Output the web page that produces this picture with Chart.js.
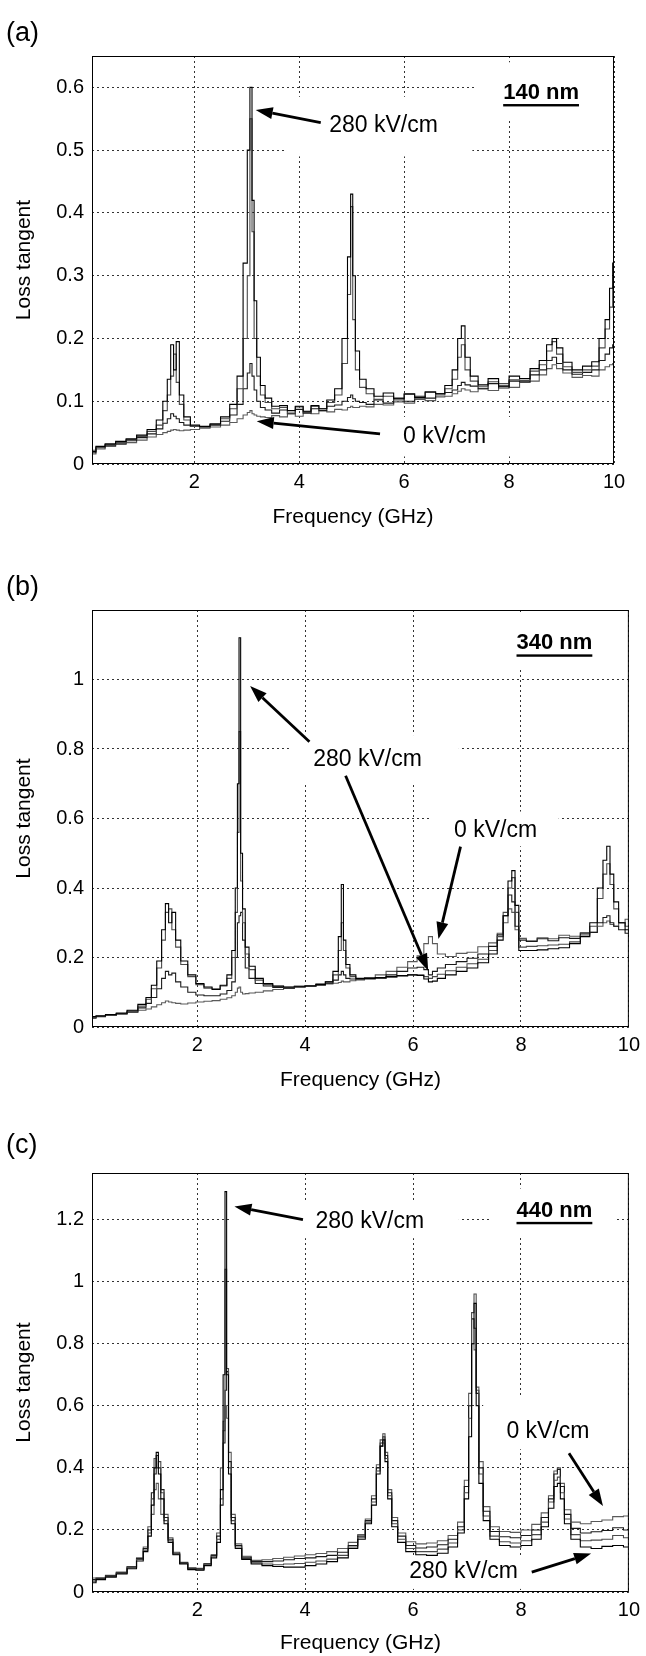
<!DOCTYPE html>
<html>
<head>
<meta charset="utf-8">
<script src="https://cdn.jsdelivr.net/npm/chart.js@4.4.1/dist/chart.umd.min.js"></script>
<style>
  html, body { margin: 0; padding: 0; background: #fff; }
  body { width: 646px; height: 1656px; position: relative; overflow: hidden; }
  .panel { position: absolute; left: 0; width: 646px; }
  canvas { display: block; }
</style>
</head>
<body>
<div class="panel" style="top:0px;height:545px"><canvas id="chartA" width="646" height="545"></canvas></div>
<div class="panel" style="top:545px;height:555px"><canvas id="chartB" width="646" height="555"></canvas></div>
<div class="panel" style="top:1100px;height:556px"><canvas id="chartC" width="646" height="556"></canvas></div>
<script>
const FONT = '"Liberation Sans", Arial, Helvetica, sans-serif';

// shared tick labels
const xTicks = [2, 4, 6, 8, 10];
const yTicksA = [0, 0.1, 0.2, 0.3, 0.4, 0.5, 0.6];
const yTicksB = [0, 0.2, 0.4, 0.6, 0.8, 1];
const yTicksC = [0, 0.2, 0.4, 0.6, 0.8, 1, 1.2];

// (a) 140 nm film, frequency in GHz
const freqA = [0.05, 0.2, 0.4, 0.6, 0.8, 1.0, 1.2, 1.35, 1.45, 1.52, 1.58, 1.63, 1.68, 1.75, 1.85, 2.0, 2.2, 2.4, 2.6, 2.75,
  2.88, 2.98, 3.04, 3.08, 3.12, 3.16, 3.22, 3.3, 3.4, 3.55, 3.7, 3.85, 4.0, 4.15, 4.3, 4.45, 4.6, 4.75, 4.88, 4.96,
  5.0, 5.04, 5.1, 5.2, 5.35, 5.5, 5.7, 5.9, 6.1, 6.3, 6.5, 6.7, 6.85, 6.98, 7.06, 7.12, 7.2, 7.32, 7.5, 7.7,
  7.9, 8.1, 8.3, 8.5, 8.65, 8.78, 8.86, 8.95, 9.1, 9.3, 9.5, 9.65, 9.78, 9.88, 9.95, 10.0];
const a280 = [0.020, 0.028, 0.032, 0.036, 0.040, 0.046, 0.055, 0.070, 0.100, 0.135, 0.190, 0.150, 0.195, 0.110, 0.075, 0.062, 0.060, 0.064, 0.075, 0.095,
  0.140, 0.320, 0.500, 0.600, 0.420, 0.260, 0.170, 0.125, 0.105, 0.092, 0.093, 0.085, 0.092, 0.084, 0.093, 0.088, 0.102, 0.120, 0.200, 0.330,
  0.430, 0.300, 0.180, 0.135, 0.120, 0.108, 0.113, 0.104, 0.112, 0.106, 0.115, 0.112, 0.125, 0.150, 0.200, 0.220, 0.170, 0.140, 0.126, 0.136,
  0.124, 0.140, 0.136, 0.152, 0.165, 0.190, 0.200, 0.185, 0.162, 0.150, 0.156, 0.163, 0.200, 0.230, 0.280, 0.320];
const aMidHigh = [0.022, 0.027, 0.031, 0.034, 0.039, 0.044, 0.052, 0.062, 0.085, 0.110, 0.140, 0.175, 0.130, 0.095, 0.070, 0.060, 0.059, 0.063, 0.072, 0.088,
  0.120, 0.200, 0.300, 0.550, 0.370, 0.200, 0.140, 0.110, 0.098, 0.088, 0.090, 0.081, 0.091, 0.083, 0.092, 0.088, 0.098, 0.110, 0.160, 0.270,
  0.410, 0.230, 0.150, 0.122, 0.112, 0.103, 0.108, 0.102, 0.111, 0.104, 0.114, 0.110, 0.120, 0.135, 0.170, 0.190, 0.150, 0.132, 0.123, 0.131,
  0.128, 0.134, 0.133, 0.148, 0.158, 0.180, 0.195, 0.175, 0.155, 0.146, 0.150, 0.156, 0.185, 0.215, 0.250, 0.280];
const aMidLow = [0.018, 0.026, 0.030, 0.033, 0.037, 0.042, 0.048, 0.056, 0.065, 0.072, 0.080, 0.076, 0.072, 0.066, 0.062, 0.060, 0.059, 0.062, 0.068, 0.078,
  0.095, 0.120, 0.145, 0.160, 0.140, 0.118, 0.100, 0.090, 0.086, 0.081, 0.086, 0.080, 0.087, 0.081, 0.088, 0.085, 0.092, 0.094, 0.100, 0.106,
  0.110, 0.104, 0.100, 0.098, 0.095, 0.102, 0.097, 0.105, 0.100, 0.108, 0.105, 0.112, 0.114, 0.118, 0.125, 0.130, 0.126, 0.124, 0.120, 0.128,
  0.121, 0.132, 0.131, 0.142, 0.150, 0.165, 0.170, 0.160, 0.150, 0.143, 0.146, 0.150, 0.165, 0.175, 0.185, 0.190];
const a0 = [0.016, 0.024, 0.028, 0.031, 0.034, 0.038, 0.043, 0.047, 0.050, 0.052, 0.054, 0.055, 0.054, 0.053, 0.054, 0.055, 0.057, 0.059, 0.062, 0.066,
  0.072, 0.078, 0.082, 0.085, 0.080, 0.078, 0.076, 0.075, 0.074, 0.077, 0.075, 0.080, 0.076, 0.082, 0.080, 0.085, 0.083, 0.087, 0.086, 0.090,
  0.092, 0.090, 0.090, 0.092, 0.091, 0.095, 0.094, 0.099, 0.097, 0.103, 0.101, 0.107, 0.108, 0.112, 0.116, 0.120, 0.118, 0.115, 0.120, 0.117,
  0.124, 0.122, 0.130, 0.132, 0.142, 0.152, 0.158, 0.152, 0.145, 0.138, 0.141, 0.140, 0.150, 0.155, 0.158, 0.160];

// (b) 340 nm film
const freqB = [0.05, 0.2, 0.4, 0.6, 0.8, 1.0, 1.1, 1.2, 1.3, 1.38, 1.44, 1.5, 1.56, 1.64, 1.75, 1.9, 2.05, 2.2, 2.35, 2.5,
  2.6, 2.68, 2.73, 2.76, 2.79, 2.82, 2.86, 2.92, 3.0, 3.15, 3.3, 3.5, 3.7, 3.9, 4.1, 4.3, 4.45, 4.58, 4.65, 4.69,
  4.73, 4.78, 4.88, 5.0, 5.2, 5.4, 5.6, 5.8, 6.0, 6.15, 6.25, 6.32, 6.4, 6.5, 6.7, 6.9, 7.1, 7.3, 7.5, 7.62,
  7.72, 7.8, 7.86, 7.92, 8.0, 8.2, 8.4, 8.6, 8.8, 9.0, 9.2, 9.35, 9.48, 9.56, 9.62, 9.68, 9.76, 9.86, 10.0];
const b280 = [0.030, 0.032, 0.036, 0.040, 0.048, 0.065, 0.085, 0.120, 0.190, 0.280, 0.355, 0.300, 0.330, 0.250, 0.190, 0.150, 0.125, 0.115, 0.108, 0.120,
  0.150, 0.220, 0.400, 0.700, 1.120, 0.500, 0.340, 0.230, 0.175, 0.140, 0.125, 0.118, 0.115, 0.116, 0.118, 0.122, 0.130, 0.160, 0.260, 0.410,
  0.250, 0.180, 0.150, 0.140, 0.140, 0.142, 0.145, 0.148, 0.150, 0.148, 0.138, 0.130, 0.132, 0.140, 0.150, 0.160, 0.170, 0.185, 0.210, 0.250,
  0.320, 0.420, 0.450, 0.350, 0.220, 0.220, 0.222, 0.225, 0.228, 0.240, 0.260, 0.300, 0.400, 0.480, 0.520, 0.440, 0.360, 0.300, 0.280];
const bMidHigh = [0.028, 0.031, 0.035, 0.039, 0.046, 0.060, 0.080, 0.110, 0.170, 0.250, 0.330, 0.340, 0.280, 0.230, 0.180, 0.145, 0.122, 0.112, 0.110, 0.118,
  0.140, 0.200, 0.330, 0.560, 0.850, 0.420, 0.300, 0.210, 0.165, 0.135, 0.122, 0.117, 0.114, 0.118, 0.119, 0.124, 0.130, 0.150, 0.220, 0.300,
  0.220, 0.170, 0.145, 0.138, 0.140, 0.140, 0.143, 0.146, 0.150, 0.150, 0.145, 0.140, 0.145, 0.152, 0.162, 0.172, 0.182, 0.195, 0.220, 0.260,
  0.330, 0.400, 0.430, 0.330, 0.230, 0.232, 0.234, 0.236, 0.238, 0.245, 0.262, 0.290, 0.370, 0.440, 0.470, 0.410, 0.340, 0.300, 0.290];
const bMidLow = [0.025, 0.030, 0.034, 0.038, 0.044, 0.055, 0.068, 0.085, 0.110, 0.140, 0.160, 0.150, 0.155, 0.130, 0.115, 0.100, 0.092, 0.090, 0.090, 0.095,
  0.105, 0.130, 0.200, 0.300, 0.320, 0.330, 0.250, 0.170, 0.140, 0.125, 0.118, 0.114, 0.112, 0.115, 0.118, 0.122, 0.126, 0.135, 0.150, 0.160,
  0.150, 0.140, 0.138, 0.136, 0.138, 0.142, 0.150, 0.160, 0.170, 0.172, 0.165, 0.150, 0.160, 0.170, 0.180, 0.188, 0.198, 0.210, 0.232, 0.265,
  0.320, 0.380, 0.360, 0.290, 0.250, 0.246, 0.254, 0.248, 0.257, 0.255, 0.268, 0.272, 0.300, 0.315, 0.320, 0.300, 0.290, 0.280, 0.270];
const b0 = [0.028, 0.031, 0.034, 0.037, 0.042, 0.048, 0.052, 0.058, 0.064, 0.070, 0.075, 0.072, 0.070, 0.068, 0.066, 0.069, 0.072, 0.074, 0.076, 0.080,
  0.084, 0.090, 0.100, 0.112, 0.115, 0.100, 0.095, 0.096, 0.098, 0.100, 0.104, 0.108, 0.112, 0.116, 0.118, 0.120, 0.124, 0.126, 0.128, 0.132,
  0.130, 0.130, 0.133, 0.136, 0.142, 0.150, 0.160, 0.172, 0.188, 0.205, 0.240, 0.260, 0.240, 0.210, 0.203, 0.212, 0.215, 0.231, 0.242, 0.270,
  0.300, 0.340, 0.330, 0.280, 0.255, 0.248, 0.257, 0.254, 0.264, 0.261, 0.272, 0.273, 0.290, 0.300, 0.305, 0.295, 0.290, 0.300, 0.310];

// (c) 440 nm film
const freqC = [0.05, 0.2, 0.4, 0.6, 0.8, 0.95, 1.05, 1.12, 1.18, 1.22, 1.26, 1.3, 1.35, 1.42, 1.5, 1.6, 1.75, 1.9, 2.05, 2.2,
  2.32, 2.4, 2.46, 2.5, 2.53, 2.56, 2.6, 2.66, 2.75, 2.9, 3.1, 3.3, 3.5, 3.7, 3.9, 4.1, 4.3, 4.5, 4.7, 4.9,
  5.05, 5.18, 5.28, 5.36, 5.42, 5.46, 5.5, 5.56, 5.65, 5.78, 5.95, 6.15, 6.35, 6.55, 6.75, 6.9, 7.0, 7.06, 7.11, 7.15,
  7.19, 7.25, 7.35, 7.5, 7.7, 7.9, 8.1, 8.3, 8.45, 8.57, 8.65, 8.7, 8.76, 8.85, 9.0, 9.2, 9.4, 9.6, 9.8, 10.0];
const c280 = [0.030, 0.040, 0.048, 0.058, 0.075, 0.100, 0.130, 0.180, 0.280, 0.400, 0.450, 0.380, 0.300, 0.220, 0.160, 0.120, 0.090, 0.072, 0.070, 0.085,
  0.110, 0.160, 0.330, 0.700, 1.290, 0.700, 0.380, 0.220, 0.140, 0.105, 0.090, 0.085, 0.082, 0.080, 0.080, 0.085, 0.090, 0.098, 0.110, 0.140,
  0.170, 0.220, 0.280, 0.380, 0.470, 0.490, 0.420, 0.300, 0.210, 0.160, 0.130, 0.120, 0.118, 0.125, 0.145, 0.190, 0.300, 0.500, 0.800, 0.930,
  0.600, 0.350, 0.230, 0.170, 0.150, 0.145, 0.150, 0.170, 0.210, 0.270, 0.340, 0.350, 0.300, 0.220, 0.170, 0.145, 0.140, 0.147, 0.150, 0.145];
const cMidHigh = [0.035, 0.042, 0.050, 0.060, 0.078, 0.105, 0.135, 0.190, 0.300, 0.430, 0.400, 0.420, 0.320, 0.230, 0.165, 0.122, 0.092, 0.074, 0.072, 0.088,
  0.115, 0.170, 0.300, 0.550, 1.040, 0.720, 0.400, 0.230, 0.145, 0.108, 0.094, 0.090, 0.088, 0.090, 0.092, 0.096, 0.100, 0.106, 0.118, 0.145,
  0.175, 0.225, 0.290, 0.390, 0.490, 0.510, 0.430, 0.310, 0.220, 0.170, 0.140, 0.130, 0.130, 0.138, 0.158, 0.200, 0.320, 0.560, 0.900, 0.960,
  0.650, 0.380, 0.245, 0.180, 0.162, 0.158, 0.165, 0.185, 0.225, 0.290, 0.360, 0.370, 0.320, 0.235, 0.185, 0.165, 0.167, 0.170, 0.182, 0.175];
const cMidLow = [0.040, 0.044, 0.052, 0.062, 0.080, 0.108, 0.140, 0.200, 0.320, 0.380, 0.440, 0.400, 0.330, 0.240, 0.170, 0.125, 0.094, 0.076, 0.074, 0.090,
  0.118, 0.180, 0.280, 0.480, 0.650, 0.710, 0.420, 0.240, 0.150, 0.112, 0.098, 0.098, 0.100, 0.104, 0.108, 0.110, 0.114, 0.118, 0.128, 0.150,
  0.180, 0.230, 0.300, 0.400, 0.480, 0.500, 0.440, 0.320, 0.230, 0.180, 0.150, 0.142, 0.145, 0.152, 0.170, 0.210, 0.340, 0.600, 0.880, 0.850,
  0.640, 0.400, 0.260, 0.195, 0.178, 0.175, 0.182, 0.200, 0.240, 0.300, 0.380, 0.395, 0.340, 0.250, 0.205, 0.190, 0.194, 0.198, 0.207, 0.200];
const c0 = [0.045, 0.046, 0.054, 0.064, 0.082, 0.110, 0.145, 0.210, 0.250, 0.330, 0.350, 0.300, 0.250, 0.250, 0.175, 0.128, 0.096, 0.078, 0.076, 0.092,
  0.120, 0.190, 0.400, 0.520, 0.600, 0.560, 0.450, 0.250, 0.155, 0.115, 0.102, 0.104, 0.108, 0.112, 0.116, 0.120, 0.124, 0.130, 0.140, 0.160,
  0.185, 0.235, 0.310, 0.410, 0.470, 0.480, 0.450, 0.330, 0.240, 0.190, 0.162, 0.155, 0.158, 0.165, 0.182, 0.225, 0.360, 0.640, 0.800, 0.780,
  0.660, 0.420, 0.275, 0.210, 0.195, 0.192, 0.200, 0.218, 0.255, 0.310, 0.390, 0.400, 0.350, 0.265, 0.225, 0.220, 0.227, 0.232, 0.243, 0.245];

const LINE_COLORS = ['#000000', '#4a4a4a', '#1a1a1a', '#5a5a5a'];

// annotations in data units: texts, arrows, white text boxes
const NOTES = {
  chartA: {
    label: '(a)', labelY: 34,
    texts: [
      { x: 4.57, y: 0.539, text: '280 kV/cm' },
      { x: 5.98, y: 0.044, text: '0 kV/cm' },
      { x: 8.61, y: 0.591, text: '140 nm', bold: true }
    ],
    arrows: [[4.41, 0.544, 3.17, 0.564], [5.54, 0.048, 3.19, 0.068]],
    boxes: [[3.75, 7.3, 0.49, 0.585], [7.35, 10, 0.55, 0.64], [5.75, 8.1, 0.012, 0.075]]
  },
  chartB: {
    label: '(b)', labelY: 588 - 545,
    texts: [
      { x: 4.15, y: 0.77, text: '280 kV/cm' },
      { x: 6.76, y: 0.564, text: '0 kV/cm' },
      { x: 8.62, y: 1.104, text: '340 nm', bold: true }
    ],
    arrows: [[4.08, 0.821, 2.98, 0.981], [4.75, 0.723, 6.28, 0.162], [6.88, 0.519, 6.47, 0.253]],
    boxes: [[3.7, 6.85, 0.70, 0.84], [6.35, 8.7, 0.52, 0.62], [7.6, 9.8, 1.03, 1.19]]
  },
  chartC: {
    label: '(c)', labelY: 1146 - 1100,
    texts: [
      { x: 4.19, y: 1.193, text: '280 kV/cm' },
      { x: 7.73, y: 0.518, text: '0 kV/cm' },
      { x: 5.93, y: 0.064, text: '280 kV/cm' },
      { x: 8.62, y: 1.228, text: '440 nm', bold: true }
    ],
    arrows: [[3.96, 1.2, 2.69, 1.242], [8.89, 0.447, 9.52, 0.277], [8.2, 0.064, 9.3, 0.124]],
    boxes: [[2.62, 6.85, 1.14, 1.26], [7.45, 9.75, 1.15, 1.3], [7.3, 10, 0.46, 0.63], [5.85, 8.25, 0.01, 0.11]]
  }
};

function drawArrow(ctx, x1, y1, x2, y2) {
  const ang = Math.atan2(y2 - y1, x2 - x1);
  const len = 17, half = 6;
  const bx = x2 - len * Math.cos(ang), by = y2 - len * Math.sin(ang);
  ctx.lineWidth = 2.8;
  ctx.beginPath();
  ctx.moveTo(x1, y1);
  ctx.lineTo(bx, by);
  ctx.stroke();
  ctx.beginPath();
  ctx.moveTo(x2, y2);
  ctx.lineTo(bx - half * Math.sin(ang), by + half * Math.cos(ang));
  ctx.lineTo(bx + half * Math.sin(ang), by - half * Math.cos(ang));
  ctx.closePath();
  ctx.fill();
}

const notesPlugin = {
  id: 'notes',
  beforeDatasetsDraw(chart) {
    const n = NOTES[chart.canvas.id];
    const { ctx, scales: { x, y } } = chart;
    ctx.save();
    ctx.fillStyle = '#fff';
    n.boxes.forEach(b => {
      const px1 = x.getPixelForValue(b[0]), px2 = x.getPixelForValue(b[1]);
      const py1 = y.getPixelForValue(b[3]), py2 = y.getPixelForValue(b[2]);
      ctx.fillRect(px1, py1, px2 - px1, py2 - py1);
    });
    ctx.restore();
  },
  afterDatasetsDraw(chart) {
    const n = NOTES[chart.canvas.id];
    const { ctx, chartArea: a, scales: { x, y } } = chart;
    ctx.save();
    // plot frame
    ctx.strokeStyle = '#000';
    ctx.lineWidth = 1;
    ctx.strokeRect(a.left + 0.5, a.top + 0.5, a.right - a.left - 1, a.bottom - a.top - 1);
    ctx.fillStyle = '#000';
    ctx.textBaseline = 'middle';
    n.texts.forEach(t => {
      const px = x.getPixelForValue(t.x), py = y.getPixelForValue(t.y);
      if (t.bold) {
        ctx.font = 'bold 22px ' + FONT;
        ctx.textAlign = 'center';
        ctx.fillText(t.text, px, py);
        const w = ctx.measureText(t.text).width;
        ctx.fillRect(px - w / 2, py + 11, w, 2.4);
      } else {
        ctx.font = '23px ' + FONT;
        ctx.textAlign = 'left';
        ctx.fillText(t.text, px, py);
      }
    });
    ctx.strokeStyle = '#000';
    n.arrows.forEach(r => drawArrow(ctx, x.getPixelForValue(r[0]), y.getPixelForValue(r[1]),
      x.getPixelForValue(r[2]), y.getPixelForValue(r[3])));
    ctx.font = '27px ' + FONT;
    ctx.textAlign = 'left';
    ctx.fillText(n.label, 6, n.labelY);
    ctx.restore();
  }
};

function makeChart(p) {
  const datasets = p.series.map((vals, i) => ({
    label: p.labels[i],
    data: p.freq.map((f, k) => ({ x: f, y: vals[k] })),
    borderColor: LINE_COLORS[i],
    borderWidth: 1.1,
    pointRadius: 0,
    stepped: 'middle',
    fill: false
  }));
  const tickFont = { size: 20, family: FONT };
  return new Chart(document.getElementById(p.id), {
    type: 'line',
    data: { datasets },
    options: {
      responsive: false,
      animation: false,
      layout: { padding: { left: 0, top: p.plot.t - p.top, right: 646 - p.plot.r, bottom: 0 } },
      plugins: { legend: { display: false }, tooltip: { enabled: false } },
      scales: {
        x: {
          type: 'linear', min: 0.05, max: 10,
          afterBuildTicks: s => { s.ticks = xTicks.map(v => ({ value: v })); },
          afterFit: s => { s.height = p.top + p.height - p.plot.b; },
          grid: { color: '#333', lineWidth: 1, drawTicks: false },
          border: { display: false, dash: [2, 3] },
          ticks: { font: tickFont, color: '#000', padding: 6, maxRotation: 0, callback: v => String(v) },
          title: { display: true, text: 'Frequency (GHz)', color: '#000', font: { size: 21, family: FONT },
            padding: { top: 0, bottom: p.xTitlePad } }
        },
        y: {
          type: 'linear', min: 0, max: p.ymax,
          afterBuildTicks: s => { s.ticks = p.yTicks.map(v => ({ value: v })); },
          afterFit: s => { s.width = p.plot.l; },
          grid: { color: '#333', lineWidth: 1, drawTicks: false },
          border: { display: false, dash: [2, 3] },
          ticks: { font: tickFont, color: '#000', padding: 8, callback: v => String(v) },
          title: { display: true, text: 'Loss tangent', color: '#000', font: { size: 21, family: FONT },
            padding: { top: 12, bottom: 0 } }
        }
      }
    },
    plugins: [notesPlugin]
  });
}

const FIELD_LABELS = ['280 kV/cm', 'intermediate field', 'intermediate field', '0 kV/cm'];

makeChart({ id: 'chartA', top: 0, height: 545, plot: { l: 92, r: 614, t: 56, b: 464 }, ymax: 0.65,
  yTicks: yTicksA, xTitlePad: 15, freq: freqA, series: [a280, aMidHigh, aMidLow, a0], labels: FIELD_LABELS });
makeChart({ id: 'chartB', top: 545, height: 555, plot: { l: 92, r: 630, t: 610, b: 1027 }, ymax: 1.2,
  yTicks: yTicksB, xTitlePad: 7, freq: freqB, series: [b280, bMidHigh, bMidLow, b0], labels: FIELD_LABELS });
makeChart({ id: 'chartC', top: 1100, height: 556, plot: { l: 92, r: 634, t: 1173, b: 1592 }, ymax: 1.35,
  yTicks: yTicksC, xTitlePad: 0, freq: freqC, series: [c280, cMidHigh, cMidLow, c0], labels: FIELD_LABELS });
</script>
</body>
</html>
